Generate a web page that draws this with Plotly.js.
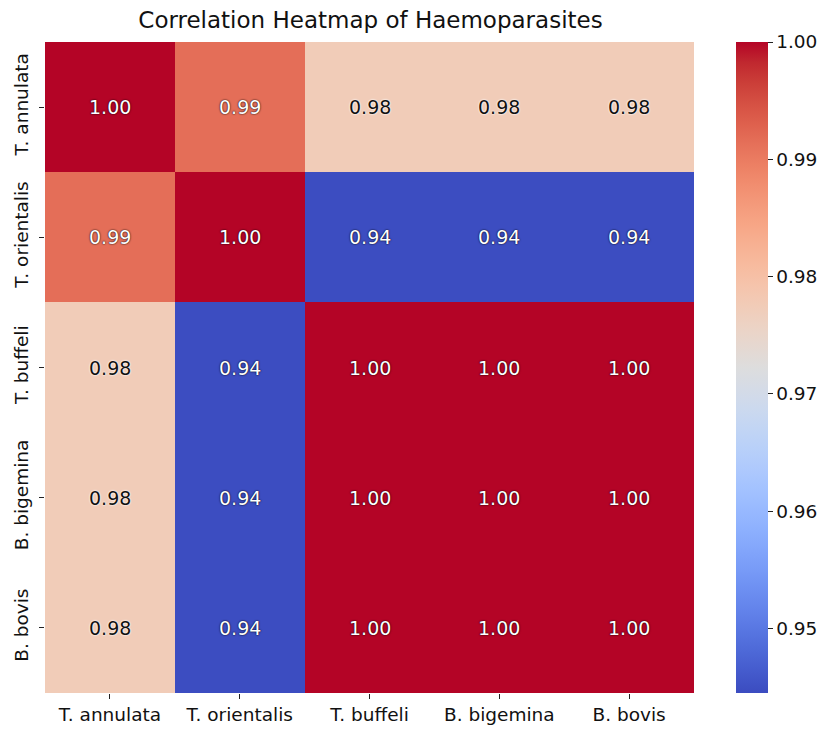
<!DOCTYPE html>
<html>
<head>
<meta charset="utf-8">
<script src="https://cdn.plot.ly/plotly-3.0.1.min.js"></script>
<style>html,body{margin:0;padding:0;background:#fff;}#chart{width:828px;height:730px;}</style>
</head>
<body>
<div id="chart"></div>
<script>
const species = ["T. annulata", "T. orientalis", "T. buffeli", "B. bigemina", "B. bovis"];
const corrAnnulata   = [1.0000, 0.9915, 0.9775, 0.9775, 0.9775];
const corrOrientalis = [0.9915, 1.0000, 0.9446, 0.9446, 0.9446];
const corrBuffeli    = [0.9775, 0.9446, 1.0000, 1.0000, 1.0000];
const corrBigemina   = [0.9775, 0.9446, 1.0000, 1.0000, 1.0000];
const corrBovis      = [0.9775, 0.9446, 1.0000, 1.0000, 1.0000];
const zRows = [corrAnnulata, corrOrientalis, corrBuffeli, corrBigemina, corrBovis];
const zMin = 0.9445, zMax = 1.0;
const cbTicks = [0.95, 0.96, 0.97, 0.98, 0.99, 1.00];

const coolwarm = [
 [0.0,'rgb(59,76,192)'],[0.03125,'rgb(68,90,204)'],[0.0625,'rgb(77,104,215)'],[0.09375,'rgb(87,117,225)'],
 [0.125,'rgb(98,130,234)'],[0.15625,'rgb(108,142,241)'],[0.1875,'rgb(119,154,247)'],[0.21875,'rgb(130,165,251)'],
 [0.25,'rgb(141,176,254)'],[0.28125,'rgb(152,185,255)'],[0.3125,'rgb(163,194,255)'],[0.34375,'rgb(174,201,253)'],
 [0.375,'rgb(184,208,249)'],[0.40625,'rgb(194,213,244)'],[0.4375,'rgb(204,217,238)'],[0.46875,'rgb(213,219,230)'],
 [0.5,'rgb(221,221,221)'],[0.53125,'rgb(229,216,209)'],[0.5625,'rgb(236,211,197)'],[0.59375,'rgb(241,204,184)'],
 [0.625,'rgb(245,196,172)'],[0.65625,'rgb(247,187,159)'],[0.6875,'rgb(247,177,147)'],[0.71875,'rgb(247,166,134)'],
 [0.75,'rgb(244,154,123)'],[0.78125,'rgb(241,141,111)'],[0.8125,'rgb(236,127,99)'],[0.84375,'rgb(229,112,89)'],
 [0.875,'rgb(222,96,77)'],[0.90625,'rgb(213,80,67)'],[0.9375,'rgb(203,62,56)'],[0.96875,'rgb(192,40,47)'],
 [1.0,'rgb(180,4,38)']
];

const font = "DejaVu Sans, Verdana, sans-serif";
const annotations = [];
zRows.forEach((row, i) => {
  row.forEach((v, j) => {
    const t = (v - zMin) / (zMax - zMin);
    const light = t > 0.3 && t < 0.7;
    annotations.push({
      x: species[j], y: species[i], xref: 'x', yref: 'y',
      text: v.toFixed(2), showarrow: false,
      font: {family: font, size: 19, color: light ? '#111' : '#fff',
             shadow: light ? '0 0 2px #fff, 0 0 2px #fff' : '0 0 2px rgba(0,0,0,0.8), 0 0 1px rgba(0,0,0,0.8)'}
    });
  });
});

const trace = {
  type: 'heatmap',
  x: species, y: species, z: zRows,
  zmin: zMin, zmax: zMax,
  colorscale: coolwarm,
  xgap: 0, ygap: 0,
  hoverinfo: 'skip',
  colorbar: {
    x: 1.0625, xanchor: 'left', xpad: 0,
    y: 0.5, yanchor: 'middle', len: 1, lenmode: 'fraction', ypad: 0,
    thickness: 32, outlinewidth: 0,
    tickvals: cbTicks, ticktext: cbTicks.map(v => v.toFixed(2)),
    ticks: 'outside', ticklen: 5, tickcolor: '#222', tickwidth: 1,
    tickfont: {family: font, size: 18.5, color: '#111'}
  }
};

const layout = {
  width: 828, height: 730,
  margin: {l: 45, r: 133, t: 42, b: 37, pad: 0},
  paper_bgcolor: '#fff', plot_bgcolor: '#fff',
  title: {text: 'Correlation Heatmap of Haemoparasites', x: 0.4475, xanchor: 'center', y: 0.972, yanchor: 'middle',
          font: {family: font, size: 23, color: '#111'}},
  xaxis: {type: 'category', showgrid: false, zeroline: false, showline: false,
          ticks: 'outside', ticklen: 5, tickcolor: '#222', tickwidth: 1,
          tickfont: {family: font, size: 18.5, color: '#111'}},
  yaxis: {type: 'category', autorange: 'reversed', showgrid: false, zeroline: false, showline: false,
          ticks: 'outside', ticklen: 5, tickcolor: '#222', tickwidth: 1, tickangle: -90,
          ticklabelstandoff: 4,
          tickfont: {family: font, size: 18.5, color: '#111'}},
  annotations: annotations,
  showlegend: false
};

Plotly.newPlot('chart', [trace], layout, {displayModeBar: false, staticPlot: true});
</script>
</body>
</html>
